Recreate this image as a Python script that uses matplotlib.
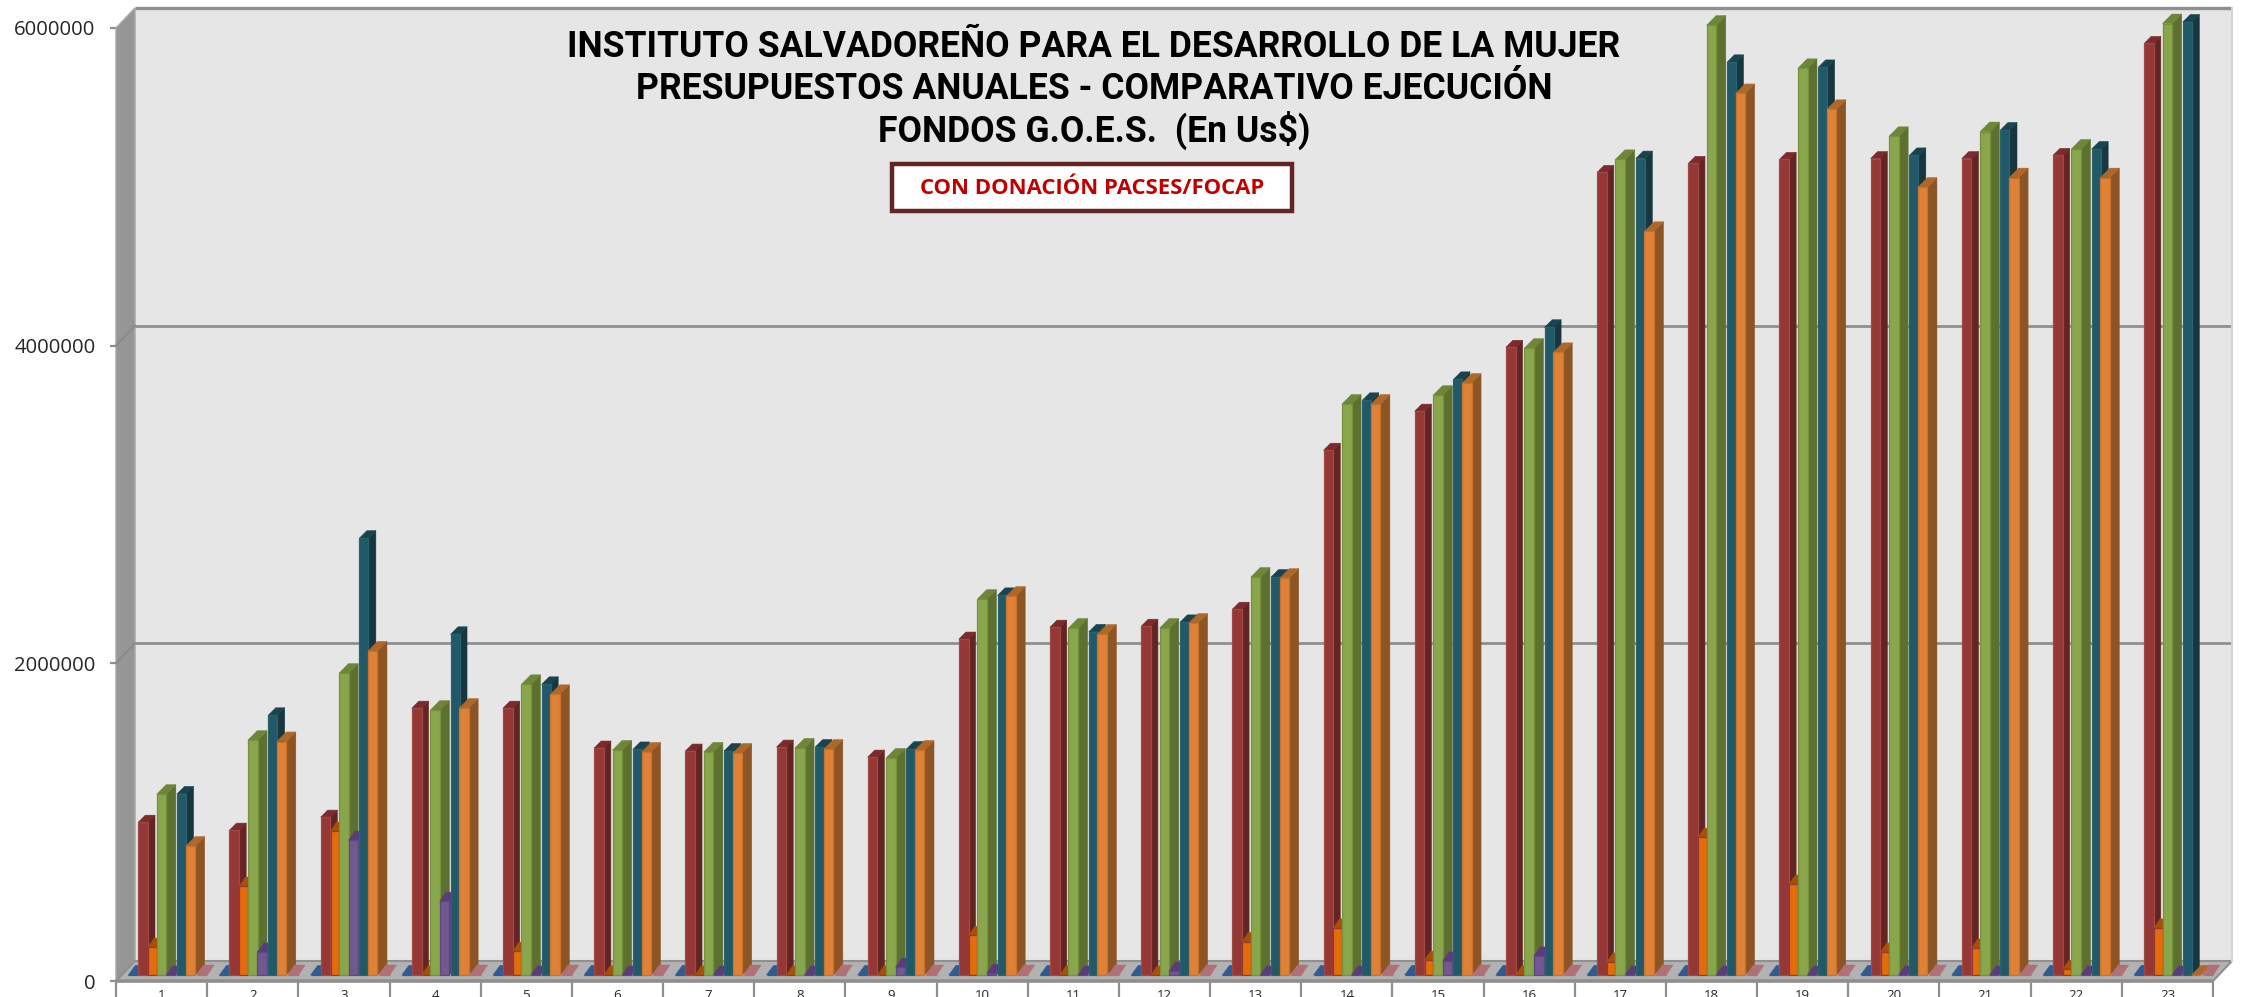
import matplotlib
matplotlib.use("Agg")
import matplotlib.pyplot as plt
from matplotlib.collections import PolyCollection
from matplotlib.patches import Polygon, Rectangle

W, H = 2250, 997
categories = list(range(1, 24))
y_ticks = [0, 2000000, 4000000, 6000000]
title_lines = ["INSTITUTO SALVADOREÑO PARA EL DESARROLLO DE LA MUJER",
               "PRESUPUESTOS ANUALES - COMPARATIVO EJECUCIÓN",
               "FONDOS G.O.E.S.  (En Us$)"]
box_text = "CON DONACIÓN PACSES/FOCAP"

blue = [0, 0, 0, 0, 0, 0, 0, 0, 0, 0, 0, 0, 0, 0, 0, 0, 0, 0, 0, 0, 0, 0, 0]
red = [962000, 912000, 994000, 1680000, 1680000, 1429000, 1410000, 1435000, 1372000, 2115000,
       2190000, 2196000, 2303000, 3304000, 3550000, 3952000, 5053000, 5110000, 5135000, 5140000,
       5140000, 5160000, 5865000]
dark_orange = [176000, 560000, 906000, 0, 150000, 0, 0, 0, 0, 250000,
               0, 0, 210000, 296000, 94000, 0, 82000, 868000, 573000, 145000,
               170000, 35000, 296000]
green = [1138000, 1478000, 1900000, 1667000, 1830000, 1416000, 1404000, 1429000, 1366000, 2366000,
         2184000, 2184000, 2505000, 3594000, 3650000, 3946000, 5135000, 5980000, 5708000, 5280000,
         5310000, 5200000, 5990000]
purple = [0, 145000, 849000, 465000, 0, 0, 0, 0, 50000, 12000,
          0, 25000, 0, 0, 88000, 120000, 0, 0, 0, 0,
          0, 0, 0]
teal = [1140000, 1635000, 2750000, 2145000, 1830000, 1420000, 1410000, 1435000, 1422000, 2390000,
        2160000, 2220000, 2505000, 3618000, 3750000, 4078000, 5140000, 5746000, 5714000, 5160000,
        5320000, 5200000, 6000000]
orange = [811000, 1470000, 2040000, 1680000, 1767000, 1404000, 1397000, 1422000, 1416000, 2385000,
          2146000, 2215000, 2498000, 3594000, 3726000, 3920000, 4682000, 5550000, 5450000, 4960000,
          5020000, 5020000, 0]
pink = [0, 0, 0, 0, 0, 0, 0, 0, 0, 0, 0, 0, 0, 0, 0, 0, 0, 0, 0, 0, 0, 0, 0]

# values, left inside category (px), width, depth dx, depth dy, front, side, top, edge
series = [
    (blue, 12.3, 10.0, 7.0, 9.5, "#2f5b94", "#2f5b94", "#2f5b94", "#2f5b94"),
    (red, 22.3, 9.7, 7.0, 7.0, "#953735", "#632523", "#7c2a2b", "#a04a48"),
    (dark_orange, 32.2, 8.5, 6.0, 9.0, "#e46c0a", "#a85008", "#a85008", "#953735"),
    (green, 40.7, 9.7, 9.4, 9.5, "#8aa64d", "#5d702f", "#6f8537", "#76913c"),
    (purple, 50.2, 9.7, 6.5, 9.0, "#71588f", "#5a3c7d", "#5a3c7d", "#5f497a"),
    (teal, 61.0, 9.0, 7.5, 7.5, "#215968", "#17363f", "#184450", "#2a6272"),
    (orange, 69.7, 9.4, 9.5, 9.5, "#e08138", "#8c5523", "#ad682a", "#c8722c"),
    (pink, 80.7, 10.7, 6.7, 10.0, "#b07078", "#b07078", "#b07078", "#b07078"),
]

plt.rcParams["font.family"] = ["Open Sans", "DejaVu Sans"]
fig = plt.figure(figsize=(W/100, H/100), dpi=100, facecolor="white")
FL, FR, F0, F6 = 116, 2213, 981, 28
ax = fig.add_axes([FL/W, (H-F0)/H, (FR-FL)/W, (F0-F6)/H])
ax.set_xlim(0.5, 23.5)
ax.set_ylim(0, 6000000)
ax.patch.set_visible(False)
for s in ax.spines.values():
    s.set_visible(False)
sx = (FR-FL)/23
sy = (F0-F6)/6000000
px = lambda d: d/sx
py = lambda d: d/sy

WD, HD = 19, 20  # wall depth in px
gray = "#8f8f8f"
top_y = 6000000 + py(HD)
# walls and floor
ax.add_patch(Rectangle((0.5+px(WD), py(HD)), 23, 6000000, fc="#e6e6e6", ec="none",
                       zorder=1, clip_on=False))
ax.add_patch(Polygon([(0.5, 0), (0.5+px(WD), py(HD)), (0.5+px(WD), top_y), (0.5, 6000000)],
                     fc="#969696", ec="#a6a6a6", lw=1.0, zorder=2, clip_on=False))
ax.add_patch(Polygon([(0.5, 0), (0.5+px(WD), py(HD)), (23.5+px(WD), py(HD)), (23.5, 0)],
                     fc="#b2b2b2", ec=gray, lw=1.5, zorder=2, clip_on=False))
ax.plot([0.5+px(WD), 23.5+px(WD)], [top_y, top_y], color=gray, lw=2.4, zorder=3, clip_on=False,
        solid_capstyle="butt")
ax.plot([23.5+px(WD), 23.5+px(WD)], [py(HD), top_y], color="#d4d4d4", lw=1.5, zorder=3, clip_on=False)
ax.plot([0.5, 23.5], [0, 0], color=gray, lw=2.6, zorder=3, clip_on=False, solid_capstyle="butt")
for v in y_ticks[1:3]:
    ax.plot([0.5+px(WD), 23.5+px(WD)], [v+py(HD), v+py(HD)], color=gray, lw=2.0, zorder=2,
            clip_on=False, solid_capstyle="butt")
    ax.plot([0.5, 0.5+px(WD)], [v, v+py(HD)], color="#8a8a8a", lw=1.5, zorder=3, clip_on=False)

# bars
base = py(6)
for i, (vals, rel, w, dx, dy, front, side, top, edge) in enumerate(series):
    z = 5 + i
    xs = [c - 0.5 + px(rel) for c in categories]
    wd = px(w); ddx = px(dx); ddy = py(dy)
    tops = [[(x, base+v), (x+wd, base+v), (x+wd+ddx, base+v+ddy), (x+ddx, base+v+ddy)]
            for x, v in zip(xs, vals)]
    sides = [[(x+wd, base), (x+wd+ddx, base+ddy), (x+wd+ddx, base+v+ddy), (x+wd, base+v)]
             for x, v in zip(xs, vals) if v > 0]
    ax.add_collection(PolyCollection(sides, facecolors=side, edgecolors=side, linewidths=0.4,
                                     zorder=z, clip_on=False), autolim=False)
    ax.add_collection(PolyCollection(tops, facecolors=top, edgecolors=top, linewidths=0.4,
                                     zorder=z, clip_on=False), autolim=False)
    ax.bar(xs, vals, width=wd, bottom=base, align="edge", color=front, edgecolor=edge,
           linewidth=0.9, zorder=z+0.5, clip_on=False)

# axes ticks
ax.set_yticks(y_ticks)
ax.set_yticklabels([str(v) for v in y_ticks], fontsize=14.6, color="#262626")
ax.tick_params(axis="y", length=4.3, width=1.6, color=gray, pad=10.5)
ax.set_xticks(categories)
ax.set_xticklabels([str(c) for c in categories], fontsize=9.5, color="#262626")
ax.tick_params(axis="x", which="major", length=0, pad=6)
ax.set_xticks([c - 0.5 for c in categories] + [23.5], minor=True)
ax.tick_params(axis="x", which="minor", length=13, width=1.6, color=gray)

# title and box
title_fam = ["Roboto", "DejaVu Sans"]
for line, yp in zip(title_lines, (47, 89, 130)):
    fig.text(1094/W, 1-yp/H, line, ha="center", va="center", fontsize=25.6, fontweight="bold",
             family=title_fam, color="#000000", zorder=30)
fig.patches.append(Rectangle((892/W, 1-211/H), 400/W, 47/H, transform=fig.transFigure,
                             fc="white", ec="#632523", lw=3.2, zorder=28))
fig.text(1092/W, 1-188/H, box_text, ha="center", va="center", fontsize=15.9, fontweight="bold",
         color="#c00000", family=["Open Sans", "DejaVu Sans"], zorder=30)
fig.savefig("out.png", dpi=100)
